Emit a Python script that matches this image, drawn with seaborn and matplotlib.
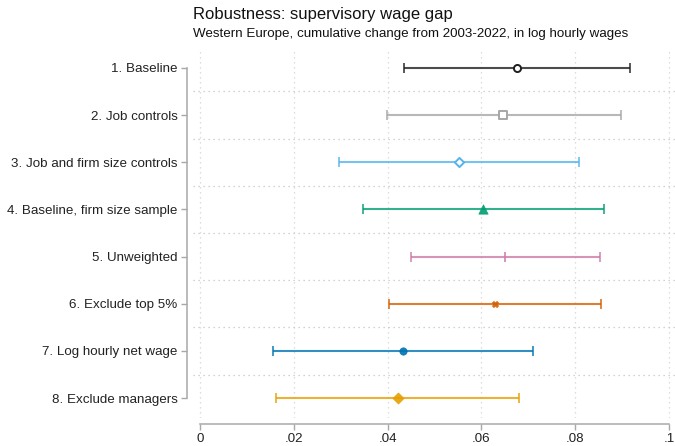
import numpy as np
import pandas as pd
import matplotlib
matplotlib.use("Agg")
import matplotlib.pyplot as plt
import seaborn as sns

# Specifications, point estimates and 95% confidence bounds
specs = ["1. Baseline", "2. Job controls", "3. Job and firm size controls",
         "4. Baseline, firm size sample", "5. Unweighted", "6. Exclude top 5%",
         "7. Log hourly net wage", "8. Exclude managers"]
estimate = [0.0676, 0.0647, 0.0553, 0.0603, 0.0651, 0.0630, 0.0433, 0.0422]
ci_low = [0.0435, 0.0399, 0.0296, 0.0348, 0.0449, 0.0402, 0.0155, 0.0162]
ci_high = [0.0917, 0.0897, 0.0809, 0.0861, 0.0853, 0.0856, 0.0710, 0.0681]
xticks = [0, 0.02, 0.04, 0.06, 0.08, 0.10]
xtick_labels = ["0", ".02", ".04", ".06", ".08", ".1"]

colors = ["#1f1f1f", "#a6a6a6", "#56B4E9", "#009E73",
          "#CC79A7", "#D55E00", "#0072B2", "#E69F00"]
markers = ["o", "s", "D", "^", "|", "X", "o", "D"]
hollow = [True, True, True, False, False, False, False, False]
msizes = [26, 28, 22, 45, 55, 20, 28, 32]

df = pd.DataFrame({"spec": specs, "est": estimate, "lo": ci_low, "hi": ci_high})
df["pos"] = np.arange(1, len(specs) + 1)

sns.set_theme(style="white")
plt.rcParams["font.family"] = ["Liberation Sans", "DejaVu Sans"]

fig = plt.figure(figsize=(6.75, 4.46), dpi=100)
ax = fig.add_axes([193 / 675, 1 - 418 / 446, (675 - 193) / 675, (418 - 48) / 446])

# Gridlines: vertical at the x ticks, horizontal between specifications
for x in xticks:
    ax.axvline(x, color="#d4d4d4", lw=0.9, ls=(0, (1, 3)), zorder=0)
for y in np.arange(1.5, len(specs), 1.0):
    ax.axhline(y, color="#c4c4c4", lw=0.9, ls=(0, (1, 3)), zorder=0)

for i, row in df.iterrows():
    c = colors[i]
    ax.errorbar([row["est"]], [row["pos"]],
                xerr=[[row["est"] - row["lo"]], [row["hi"] - row["est"]]],
                fmt="none", ecolor=c, elinewidth=1.5, capsize=3.5,
                capthick=1.3, alpha=0.8, zorder=2)
    sub = df.iloc[[i]]
    if hollow[i]:
        sns.scatterplot(data=sub, x="est", y="pos", marker=markers[i],
                        s=msizes[i], facecolor="white", edgecolor=c,
                        linewidth=1.4, ax=ax, zorder=3, legend=False)
    elif markers[i] == "|":
        sns.scatterplot(data=sub, x="est", y="pos", marker="|",
                        s=msizes[i], color=c, linewidth=1.3, alpha=0.85,
                        ax=ax, zorder=3, legend=False)
    else:
        sns.scatterplot(data=sub, x="est", y="pos", marker=markers[i],
                        s=msizes[i], color=c, edgecolor=c, linewidth=0.5,
                        alpha=0.9, ax=ax, zorder=3, legend=False)

ax.set_xlim(-0.0015, 0.1013)
ax.set_ylim(8.42, 0.58)
ax.set_xticks(xticks)
ax.set_xticklabels(xtick_labels)
ax.set_yticks(df["pos"])
ax.set_yticklabels(specs)
ax.set_xlabel("")
ax.set_ylabel("")

for side in ["top", "right"]:
    ax.spines[side].set_visible(False)
for side in ["left", "bottom"]:
    ax.spines[side].set_color("#a8a8a8")
    ax.spines[side].set_linewidth(1.1)
    ax.spines[side].set_position(("outward", 4))
ax.spines["left"].set_bounds(1, len(specs))
ax.spines["bottom"].set_bounds(0, 0.1)

ax.tick_params(axis="both", which="major", length=4.5, width=1.0,
               color="#a8a8a8", labelsize=9.6, labelcolor="#222222",
               pad=2.5, left=True, bottom=True)

fig.text(193 / 675, 1 - 15 / 446, "Robustness: supervisory wage gap",
         fontsize=12.0, color="#111111", va="center", ha="left")
fig.text(193 / 675, 1 - 34 / 446,
         "Western Europe, cumulative change from 2003-2022, in log hourly wages",
         fontsize=9.65, color="#111111", va="center", ha="left")

fig.savefig("out.png", dpi=100, facecolor="white")
